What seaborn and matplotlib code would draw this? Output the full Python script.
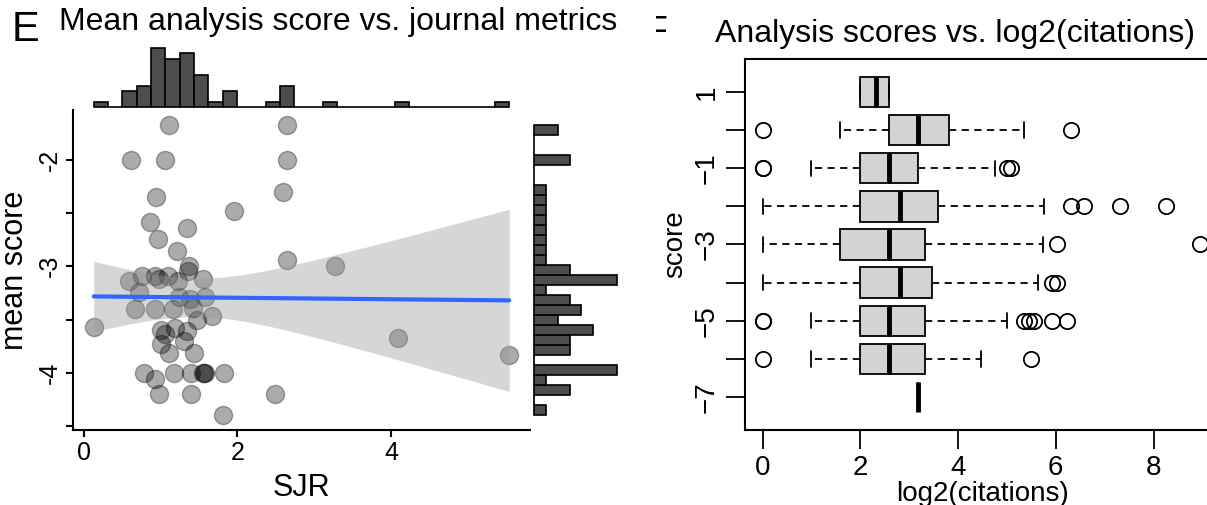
import numpy as np
import pandas as pd
import matplotlib
matplotlib.use("Agg")
import matplotlib.pyplot as plt
import seaborn as sns
from matplotlib.patches import Rectangle

# ---- panel E: one point per journal ----
sjr = [1.11, 2.65, 0.61, 1.06, 2.64, 0.94, 2.59, 1.95, 0.86, 1.34, 0.97, 1.21,
       2.65, 3.27, 1.37, 1.36, 0.59, 0.76, 0.93, 0.98, 1.10, 1.23, 1.55, 0.72,
       1.24, 1.38, 1.58, 0.67, 0.93, 1.16, 1.42, 1.67, 1.48, 0.13, 1.19, 1.01,
       1.34, 1.06, 4.09, 1.00, 1.30, 1.11, 1.43, 5.54, 0.79, 1.18, 1.40, 1.55,
       1.56, 1.58, 1.83, 0.93, 0.98, 1.40, 2.49, 1.81]
mean_score = [-1.67, -1.67, -2.00, -2.00, -2.00, -2.35, -2.30, -2.48, -2.58, -2.64,
              -2.74, -2.86, -2.94, -3.00, -3.00, -3.04, -3.14, -3.09, -3.09, -3.12,
              -3.09, -3.14, -3.12, -3.24, -3.29, -3.31, -3.29, -3.40, -3.40, -3.40,
              -3.39, -3.47, -3.50, -3.57, -3.58, -3.60, -3.61, -3.64, -3.67, -3.73,
              -3.70, -3.81, -3.81, -3.83, -4.00, -4.00, -4.00, -4.00, -4.00, -4.00,
              -4.00, -4.06, -4.20, -4.20, -4.20, -4.40]

# ---- panel F: citations per paper, by analysis score ----
score_levels = ["1", "0", "-1", "-2", "-3", "-4", "-5", "-6", "-7"]
score_ticklabels = ["1", "", "\u22121", "", "\u22123", "", "\u22125", "", "\u22127"]
cites_p1 = [4, 4, 5, 6, 6]
cites_0 = [1, 3, 5, 6, 7, 8, 9, 11, 12, 14, 20, 41, 79]
cites_m1 = [1, 1, 2, 3, 4, 4, 5, 5, 6, 6, 7, 8, 9, 16, 27, 32, 34]
cites_m2 = [1, 2, 2, 3, 3, 4, 4, 4, 5, 5, 6, 6, 7, 7, 8, 8, 10, 11, 12, 16,
            54, 79, 95, 158, 307]
cites_m3 = [1, 3, 3, 3, 4, 5, 6, 7, 8, 10, 53, 65, 498]
cites_m4 = [1, 3, 4, 4, 5, 6, 7, 8, 10, 11, 50, 61, 65]
cites_m5 = [1, 1, 2, 3, 3, 4, 4, 4, 5, 5, 6, 6, 6, 7, 7, 8, 8, 9, 10,
            32, 41, 44, 47, 61, 75]
cites_m6 = [1, 2, 3, 4, 4, 5, 6, 7, 8, 10, 12, 22, 45]
cites_m7 = [9]

groups = [cites_p1, cites_0, cites_m1, cites_m2, cites_m3, cites_m4,
          cites_m5, cites_m6, cites_m7]
rows = []
for lev, vals in zip(score_levels, groups):
    for v in vals:
        rows.append({"score": lev, "log2cit": np.log2(v)})
df_cit = pd.DataFrame(rows)
df_sjr = pd.DataFrame({"SJR": sjr, "mean_score": mean_score})

sns.set_style("ticks", {"axes.edgecolor": "black", "text.color": "black",
                        "axes.labelcolor": "black", "xtick.color": "black",
                        "ytick.color": "black"})
plt.rcParams["font.family"] = ["Liberation Sans", "DejaVu Sans"]

W, H = 1207, 505
fig = plt.figure(figsize=(W / 100, H / 100), dpi=100)


def px_box(x0, y0, x1, y1):
    return [x0 / W, 1 - y1 / H, (x1 - x0) / W, (y1 - y0) / H]


ax_main = fig.add_axes(px_box(73, 110, 530, 430))
ax_top = fig.add_axes(px_box(73, 45, 530, 110), sharex=ax_main)
ax_right = fig.add_axes(px_box(530, 110, 621, 430), sharey=ax_main)
ax_box = fig.add_axes(px_box(745, 59, 1220, 430))

# scatter
sns.scatterplot(data=df_sjr, x="SJR", y="mean_score", s=170, color="black",
                alpha=0.33, edgecolor="black", linewidth=1, ax=ax_main)

# lm confidence band (like geom_smooth(method="lm"))
xa = np.array(sjr)
ya = np.array(mean_score)
n = len(xa)
slope, icpt = np.polyfit(xa, ya, 1)
resid = ya - (icpt + slope * xa)
s_err = np.sqrt(np.sum(resid ** 2) / (n - 2))
grid = np.linspace(xa.min(), xa.max(), 100)
fit = icpt + slope * grid
se = s_err * np.sqrt(1 / n + (grid - xa.mean()) ** 2 / np.sum((xa - xa.mean()) ** 2))
t_crit = 2.005  # t(0.975, df=54)
ax_main.fill_between(grid, fit - t_crit * se, fit + t_crit * se,
                     color="0.6", alpha=0.4, lw=0)
sns.regplot(data=df_sjr, x="SJR", y="mean_score", scatter=False, ci=None,
            color="#3366FF", line_kws={"lw": 3}, ax=ax_main)

xr = xa.max() - xa.min()
yr = ya.max() - ya.min()
ax_main.set_xlim(xa.min() - 0.05 * xr, xa.max() + 0.05 * xr)
ax_main.set_ylim(ya.min() - 0.05 * yr, ya.max() + 0.05 * yr)
ax_main.set_xticks([0, 2, 4])
ax_main.set_yticks([-2, -2.5, -3, -3.5, -4, -4.5])
ax_main.set_yticklabels(["-2", "", "-3", "", "-4", ""], rotation=90, va="center")
ax_main.tick_params(labelsize=18, length=5, width=1.5, pad=3)
ax_main.set_xlabel("SJR", fontsize=22, labelpad=6)
ax_main.set_ylabel("mean score", fontsize=22, labelpad=6)
for s in ["top", "right"]:
    ax_main.spines[s].set_visible(False)
for s in ["left", "bottom"]:
    ax_main.spines[s].set_linewidth(1.5)

# marginal histograms
sns.histplot(x=sjr, bins=29, color="#4d4d4d", alpha=1, edgecolor="black",
             linewidth=1.2, ax=ax_top)
top = max(p.get_height() for p in ax_top.patches)
ax_top.set_ylim(-0.05 * top, 1.05 * top)
sns.histplot(y=mean_score, bins=29, color="#4d4d4d", alpha=1, edgecolor="black",
             linewidth=1.2, ax=ax_right)
right = max(p.get_width() for p in ax_right.patches)
ax_right.set_xlim(-0.05 * right, 1.05 * right)
for a in [ax_top, ax_right]:
    a.axis("off")

# boxplot panel
sns.boxplot(data=df_cit, x="log2cit", y="score", order=score_levels, orient="h",
            color="lightgray", saturation=1, width=0.8, linecolor="black",
            linewidth=1.3, whis=1.5,
            flierprops=dict(marker="o", markerfacecolor="none",
                            markeredgecolor="black", markersize=11, mew=1.3),
            medianprops=dict(linewidth=3.5),
            whiskerprops=dict(linestyle=(0, (4, 3))),
            ax=ax_box)
ax_box.set_xlim(-0.36, 9.36)
ax_box.set_ylim(8.86, -0.86)
ax_box.set_xticks([0, 2, 4, 6, 8])
ax_box.set_yticks(range(len(score_levels)))
ax_box.set_yticklabels(score_ticklabels, rotation=90, va="center")
ax_box.tick_params(labelsize=20, length=14, width=1.3, pad=4)
ax_box.set_xlabel("log2(citations)", fontsize=20, labelpad=0)
ax_box.set_ylabel("score", fontsize=20, labelpad=4)
for s in ax_box.spines.values():
    s.set_visible(True)
    s.set_linewidth(1.5)

# titles and panel letters
fig.text(338 / W, 1 - 22 / H, "Mean analysis score vs. journal metrics",
         fontsize=23, ha="center", va="center")
fig.text(12 / W, 1 - 30 / H, "E", fontsize=30, ha="left", va="center")
fig.text(955 / W, 1 - 34 / H, "Analysis scores vs. log2(citations)",
         fontsize=23, ha="center", va="center")
f_txt = fig.text(645 / W, 1 - 43 / H, "F", fontsize=27, ha="left",
                 va="baseline")
clip = Rectangle((656 / W, 0), 0.2, 1, transform=fig.transFigure)
f_txt.set_clip_path(clip)

fig.savefig("out.png", dpi=100)
